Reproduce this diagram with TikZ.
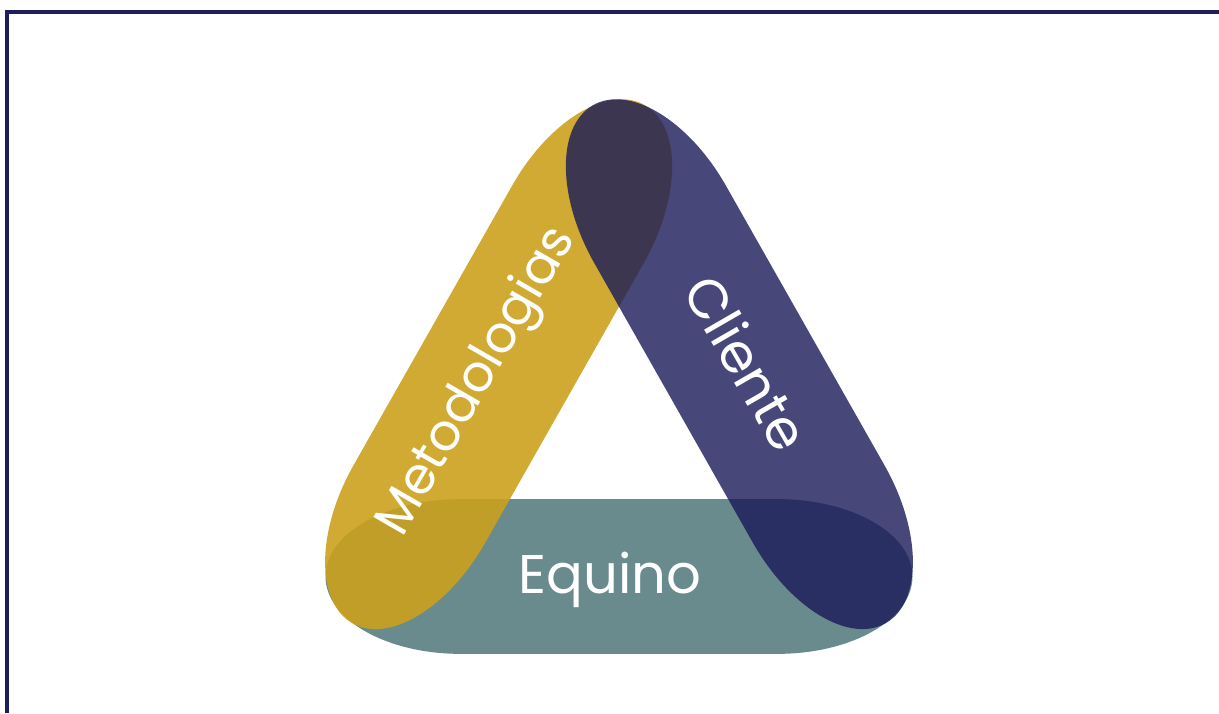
\documentclass[tikz,border=0pt]{standalone}
\usepackage{fontspec}
\setmainfont{Poppins}
\usetikzlibrary{calc}

\definecolor{cornice}{RGB}{30,30,92}
\definecolor{verdeacqua}{RGB}{106,139,142}
\definecolor{ocra}{RGB}{203,161,28}
\definecolor{notte}{RGB}{25,25,89}

\begin{document}
\begin{tikzpicture}[x=0.02cm,y=0.02cm]
	\tikzset{scritta/.style={text=white,font=\fontsize{31}{36}\selectfont}}
	\pgfmathsetmacro{\lunghezza}{587};
	\pgfmathsetmacro{\altezza}{152};
	\pgfmathsetmacro{\raggiox}{135};
	\pgfmathsetmacro{\distanza}{139};
	\pgfmathsetmacro{\tratto}{\lunghezza/2-\raggiox};
	\pgfmathsetmacro{\raggioy}{\altezza/2};

	\useasboundingbox (0,0) rectangle (1219,713);
	\draw[cornice,line width=2pt] (7,0) -- (7,701) -- (1219,701);

\begin{scope}[yscale=1.018]
	\coordinate (G) at (619,273);
	\coordinate (E) at ($(G)+(-90:\distanza)$);
	\coordinate (M) at ($(G)+(150:\distanza)$);
	\coordinate (C) at ($(G)+(30:\distanza)$);

	% fascia in basso
	\begin{scope}[shift={(E)}]
		\fill[verdeacqua] (-\tratto,-\raggioy) -- (\tratto,-\raggioy) arc[start angle=-90,end angle=90,x radius=\raggiox,y radius=\raggioy] -- (-\tratto,\raggioy) arc[start angle=90,end angle=270,x radius=\raggiox,y radius=\raggioy] -- cycle;
	\end{scope}
	% fascia a sinistra
	\begin{scope}[shift={(M)},rotate=60]
		\fill[ocra,fill opacity=0.9] (-\tratto,-\raggioy) -- (\tratto,-\raggioy) arc[start angle=-90,end angle=90,x radius=\raggiox,y radius=\raggioy] -- (-\tratto,\raggioy) arc[start angle=90,end angle=270,x radius=\raggiox,y radius=\raggioy] -- cycle;
	\end{scope}
	% fascia a destra
	\begin{scope}[shift={(C)},rotate=-60]
		\fill[notte,fill opacity=0.8] (-\tratto,-\raggioy) -- (\tratto,-\raggioy) arc[start angle=-90,end angle=90,x radius=\raggiox,y radius=\raggioy] -- (-\tratto,\raggioy) arc[start angle=90,end angle=270,x radius=\raggiox,y radius=\raggioy] -- cycle;
	\end{scope}
\end{scope}

	\node[scritta] (equino) at (610,133) {Equino};
	\node[scritta,rotate=60,font=\fontsize{29}{34}\selectfont] (metodologie) at (478,331) {Metodologias};
	\node[scritta,rotate=-60] (cliente) at (747,350) {Cliente};
\end{tikzpicture}
\end{document}
